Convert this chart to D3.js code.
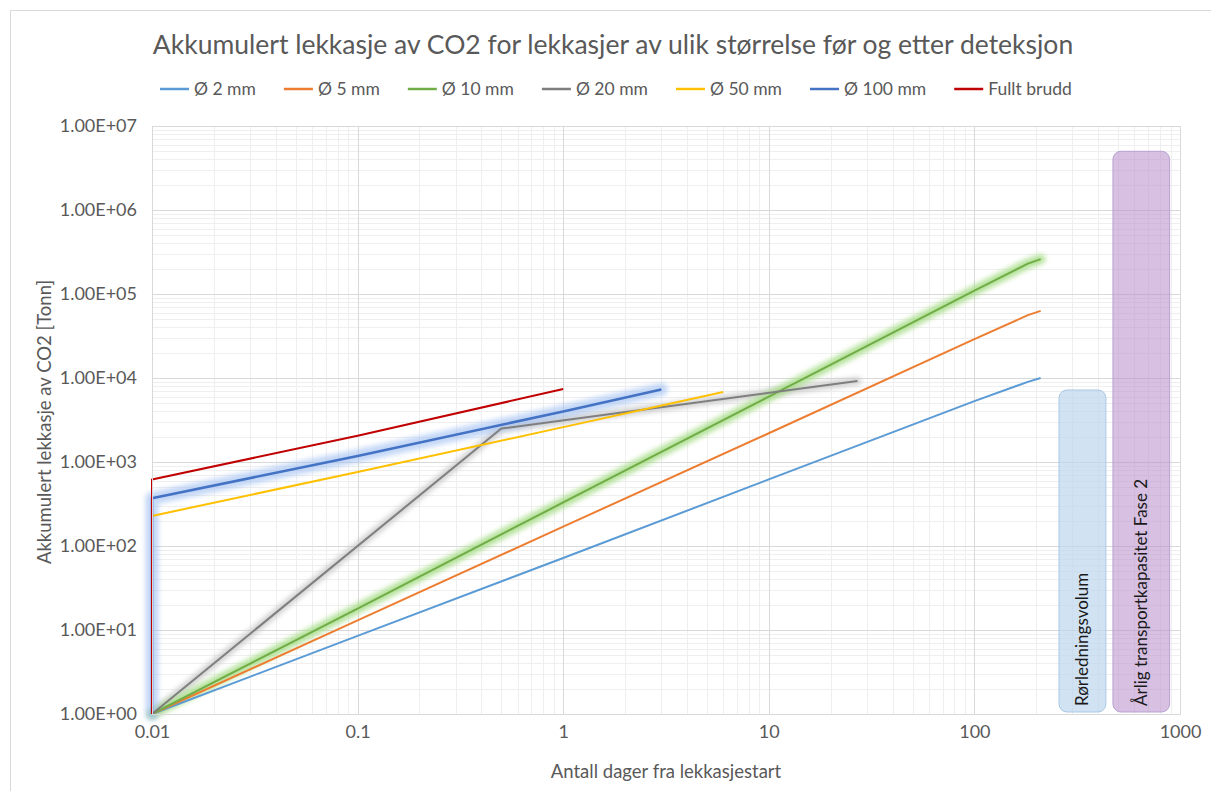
<!DOCTYPE html>
<html>
<head>
<meta charset="utf-8">
<script src="https://cdn.jsdelivr.net/npm/d3@7"></script>
<style>
  body { margin: 0; background: #fff; }
  text { font-family: Lato, "Open Sans", sans-serif; }
</style>
</head>
<body>
<div id="chart-area"></div>
<script>
// series: [dager, tonn]
var d2mm = [[0.01, 1], [0.1, 8.5], [1, 72], [10, 620], [100, 5300], [182, 9000], [210, 10000]];
var d5mm = [[0.01, 1], [0.1, 13], [1, 170], [10, 2200], [100, 29000], [182, 56000], [210, 63000]];
var d10mm = [[0.01, 1], [0.1, 18], [1, 330], [10, 6000], [100, 110000], [182, 230000], [210, 260000]];
var d20mm = [[0.01, 1], [0.5, 2500], [27, 9200]];
var d50mm = [[0.01, 1], [0.01, 228], [0.1, 760], [1, 2600], [6, 6800]];
var d100mm = [[0.01, 1], [0.01, 370], [0.1, 1180], [1, 4000], [3, 7300]];
var dFull = [[0.01, 1], [0.01, 620], [0.1, 2050], [1, 7400]];

var seriesNames = ["Ø 2 mm", "Ø 5 mm", "Ø 10 mm", "Ø 20 mm", "Ø 50 mm", "Ø 100 mm", "Fullt brudd"];
var seriesData = [d2mm, d5mm, d10mm, d20mm, d50mm, d100mm, dFull];
var seriesColors = ["#5b9bd5", "#ed7d31", "#70ad47", "#7f7f7f", "#ffc000", "#4472c4", "#c00000"];

// kapasitet-bokser: navn, tonn, fra dag, til dag
var boxNames = ["Rørledningsvolum", "Årlig transportkapasitet Fase 2"];
var boxValues = [7200, 5000000];
var boxFrom = [258, 472];
var boxTo = [436, 890];

var xTicks = [0.01, 0.1, 1, 10, 100, 1000];
var yTicks = [1, 1e1, 1e2, 1e3, 1e4, 1e5, 1e6, 1e7];

var W = 1211, H = 791;
var margin = {left: 152, right: 31, top: 126, bottom: 77};
var width = W - margin.left - margin.right;
var height = H - margin.top - margin.bottom;

var svg = d3.select("#chart-area").append("svg")
	.attr("width", W)
	.attr("height", H);

svg.append("rect")
	.attr("x", 10.5).attr("y", 10.5)
	.attr("width", W).attr("height", H)
	.attr("fill", "none")
	.attr("stroke", "#d9d9d9");

var defs = svg.append("defs");
defs.append("filter").attr("id", "glow")
	.attr("x", "-10%").attr("y", "-10%").attr("width", "120%").attr("height", "120%")
	.append("feGaussianBlur").attr("stdDeviation", 2.5);

var g = svg.append("g")
	.attr("transform", "translate(" + margin.left + "," + margin.top + ")");

var x = d3.scaleLog().domain([0.01, 1000]).range([0, width]);
var y = d3.scaleLog().domain([1, 1e7]).range([height, 0]);

// minor grid
var minorX = [], minorY = [];
xTicks.slice(0, -1).forEach(function(t){
	for (var k = 2; k <= 9; k++) minorX.push(t * k);
});
yTicks.slice(0, -1).forEach(function(t){
	for (var k = 2; k <= 9; k++) minorY.push(t * k);
});

g.selectAll(".minor-x").data(minorX).enter().append("line")
	.attr("x1", function(d){ return Math.round(x(d)) + 0.5; })
	.attr("x2", function(d){ return Math.round(x(d)) + 0.5; })
	.attr("y1", 0).attr("y2", height)
	.attr("stroke", "#efefef");
g.selectAll(".minor-y").data(minorY).enter().append("line")
	.attr("y1", function(d){ return Math.round(y(d)) + 0.5; })
	.attr("y2", function(d){ return Math.round(y(d)) + 0.5; })
	.attr("x1", 0).attr("x2", width)
	.attr("stroke", "#efefef");

g.selectAll(".major-x").data(xTicks).enter().append("line")
	.attr("x1", function(d){ return Math.round(x(d)) + 0.5; })
	.attr("x2", function(d){ return Math.round(x(d)) + 0.5; })
	.attr("y1", 0).attr("y2", height)
	.attr("stroke", "#d9d9d9");
g.selectAll(".major-y").data(yTicks).enter().append("line")
	.attr("y1", function(d){ return Math.round(y(d)) + 0.5; })
	.attr("y2", function(d){ return Math.round(y(d)) + 0.5; })
	.attr("x1", 0).attr("x2", width)
	.attr("stroke", "#d9d9d9");

// axes
var xAxisCall = d3.axisBottom(x)
	.tickValues(xTicks)
	.tickSize(0)
	.tickPadding(11)
	.tickFormat(function(d){ return d3.format("~g")(d); });
var xAxis = g.append("g")
	.attr("transform", "translate(0," + height + ")")
	.call(xAxisCall);
xAxis.select(".domain").remove();
xAxis.selectAll("text").attr("font-size", "18px").attr("fill", "#595959").attr("font-family", "Lato, sans-serif");

var yAxisCall = d3.axisLeft(y)
	.tickValues(yTicks)
	.tickSize(0)
	.tickPadding(15)
	.tickFormat(function(d){
		var e = Math.round(Math.log10(d));
		return "1.00E+" + (e < 10 ? "0" : "") + e;
	});
var yAxis = g.append("g").call(yAxisCall);
yAxis.select(".domain").remove();
yAxis.selectAll("text").attr("font-size", "18px").attr("fill", "#595959").attr("font-family", "Lato, sans-serif");

// boxes
boxNames.forEach(function(name, i){
	g.append("rect")
		.attr("x", x(boxFrom[i]))
		.attr("y", y(boxValues[i]))
		.attr("width", x(boxTo[i]) - x(boxFrom[i]))
		.attr("height", height - 2 - y(boxValues[i]))
		.attr("rx", 8)
		.attr("fill", i == 0 ? "rgba(189,215,238,0.7)" : "rgba(183,141,203,0.55)")
		.attr("stroke", i == 0 ? "#a9c8e6" : "#b7a2d0")
		.attr("stroke-width", 1);
	var cx = (x(boxFrom[i]) + x(boxTo[i])) / 2;
	g.append("text")
		.attr("transform", "translate(" + (cx + 6) + "," + (height - 8) + ") rotate(-90)")
		.attr("font-size", "17px")
		.attr("fill", "#1a1a1a")
		.text(name);
});

var line = d3.line()
	.x(function(d){ return x(d[0]); })
	.y(function(d){ return y(d[1]); });

// glow under 10, 20 and 100 mm
var glowCols = {2: "#a3db82", 3: "#c4c4c4", 5: "#9cbdf2"};
var glowW = {2: 10, 3: 8, 5: 13};
var glowOp = {2: 0.8, 3: 0.75, 5: 0.6};
[3, 2, 5].forEach(function(i){
	g.append("path")
		.attr("d", line(seriesData[i]))
		.attr("fill", "none")
		.attr("stroke", glowCols[i])
		.attr("stroke-width", glowW[i])
		.attr("stroke-linecap", "round")
		.attr("stroke-linejoin", "round")
		.attr("opacity", glowOp[i])
		.attr("filter", "url(#glow)");
});

seriesData.forEach(function(data, i){
	g.append("path")
		.attr("d", line(data))
		.attr("fill", "none")
		.attr("stroke", seriesColors[i])
		.attr("stroke-width", i == 5 ? 2.5 : 2)
		.attr("stroke-linejoin", "round");
});

// plot border
g.append("rect")
	.attr("x", 0.5).attr("y", 0.5)
	.attr("width", width).attr("height", height)
	.attr("fill", "none")
	.attr("stroke", "#d9d9d9");

// titles
svg.append("text")
	.attr("x", 613).attr("y", 54)
	.attr("text-anchor", "middle")
	.attr("font-size", "26.5px")
	.attr("fill", "#595959")
	.text("Akkumulert lekkasje av CO2 for lekkasjer av ulik størrelse før og etter deteksjon");

svg.append("text")
	.attr("x", 666).attr("y", 778)
	.attr("text-anchor", "middle")
	.attr("font-size", "18.5px")
	.attr("fill", "#595959")
	.text("Antall dager fra lekkasjestart");

svg.append("text")
	.attr("transform", "translate(51,422) rotate(-90)")
	.attr("text-anchor", "middle")
	.attr("font-size", "18.5px")
	.attr("fill", "#595959")
	.text("Akkumulert lekkasje av CO2 [Tonn]");

// legend
var legend = svg.append("g").attr("transform", "translate(0,89)");
var lx = 160;
seriesNames.forEach(function(name, i){
	legend.append("line")
		.attr("x1", lx).attr("x2", lx + 29)
		.attr("stroke", seriesColors[i])
		.attr("stroke-width", 2.5);
	var t = legend.append("text")
		.attr("x", lx + 34).attr("y", 6)
		.attr("font-size", "17.5px")
		.attr("fill", "#595959")
		.text(name);
	lx += 34 + t.node().getComputedTextLength() + 28;
});
</script>
</body>
</html>
